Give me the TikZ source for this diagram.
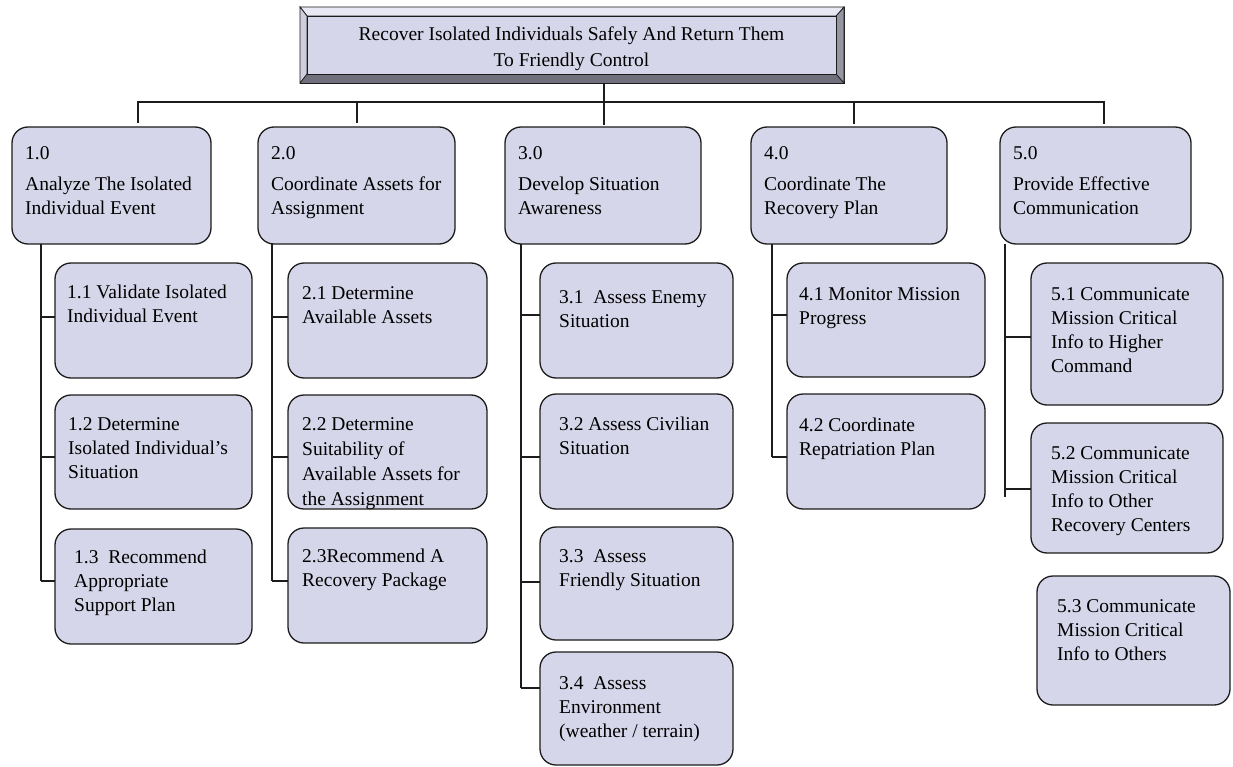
\documentclass[tikz,border=0pt]{standalone}
\usepackage{fontspec}
\setmainfont{Liberation Serif}
\definecolor{boxfill}{RGB}{214,214,234}
\definecolor{linec}{RGB}{28,28,28}
\definecolor{bevtop}{RGB}{232,232,244}
\definecolor{bevleft}{RGB}{206,206,222}
\definecolor{bevright}{RGB}{150,150,162}
\definecolor{bevbot}{RGB}{112,112,124}
\tikzset{
  box/.style={draw=linec, line width=1.3pt, fill=boxfill, rounded corners=16pt,
    outer sep=0pt, inner sep=0pt, anchor=north west},
  boxtext/.style={anchor=north west, inner sep=0pt, align=left,
    font=\fontsize{19.5}{24}\selectfont},
  link/.style={draw=linec, line width=1.6pt},
  bevel/.style={draw=linec, line width=0.8pt},
}
% name, left, top, right, bottom, text indent, first baseline, text
\newcommand\taskbox[8]{%
  \node[box, minimum width={#4-#2}, minimum height={#5-#3}] (#1) at (#2,#3) {};
  \node[boxtext] (#1-t) at ([shift={(#6,#7-16.8)}]#1.north west) {\strut #8};
}
\begin{document}
\begin{tikzpicture}[x=1pt, y=-1pt]
\useasboundingbox (0,0) rectangle (1233,767);

% root box with bevelled frame
\node[bevel, fill=bevbot, anchor=north west, inner sep=0pt, outer sep=0pt,
      minimum width=544, minimum height=76] (frame) at (300,7) {};
\fill[bevright, bevel] (844,7) -- (844,83) -- (836,74) -- (836,16) -- cycle;
\fill[bevtop, bevel] (300,7) -- (844,7) -- (836,16) -- (307,16) -- cycle;
\fill[bevleft, bevel] (300,7) -- (307,16) -- (307,74) -- (300,83) -- cycle;
\node[bevel, fill=boxfill, anchor=north west, inner sep=0pt, outer sep=0pt,
      minimum width=529, minimum height=58] (root) at (307,16) {};
\node[anchor=north, inner sep=0pt, align=center, font=\fontsize{19.5}{26}\selectfont]
  (root-t) at (571.5,22) {\strut Recover Isolated Individuals Safely And Return Them\\To Friendly Control};

% first level
\taskbox{A}{12}{127}{211}{244}{13}{32}{1.0\\[7pt]Analyze The Isolated\\Individual Event}
\taskbox{B}{258}{127}{455}{244}{13}{32}{2.0\\[7pt]Coordinate Assets for\\Assignment}
\taskbox{C}{505}{127}{701}{244}{13}{32}{3.0\\[7pt]Develop Situation\\Awareness}
\taskbox{D}{751}{127}{947}{244}{13}{32}{4.0\\[7pt]Coordinate The\\Recovery Plan}
\taskbox{E}{1000}{127}{1191}{244}{13}{32}{5.0\\[7pt]Provide Effective\\Communication}

% branches from the root
\coordinate (barL) at (138,102);
\coordinate (barR) at (1104,102);
\coordinate (t1) at (138,123);
\coordinate (t2) at (357,123);
\coordinate (t3) at (604,125);
\coordinate (t4) at (854,124);
\coordinate (t5) at (1104,124);
\draw[link] (barL) -- (barR);
\draw[link] (frame.south -| t3) -- (t3);
\foreach \t in {t1,t2,t4,t5} \draw[link] ([yshift=1pt]\t |- barL) -- (\t);

% column 1
\taskbox{a11}{55}{263}{252}{378}{12}{35}{1.1 Validate Isolated\\Individual Event}
\taskbox{a12}{55}{395}{252}{509}{13}{35}{1.2 Determine\\Isolated Individual’s\\Situation}
\taskbox{a13}{55}{529}{252}{644}{19}{34}{1.3\ \ Recommend\\Appropriate\\Support Plan}
% column 2
\taskbox{b21}{288}{263}{487}{378}{14}{36}{2.1 Determine\\Available Assets}
\taskbox{b22}{288}{395}{487}{509}{14}{35}{2.2 Determine\\[1pt]Suitability of\\[1pt]Available Assets for\\[1pt]the Assignment}
\taskbox{b23}{288}{528}{487}{643}{14}{34}{2.3Recommend A\\Recovery Package}
% column 3
\taskbox{c31}{540}{263}{733}{378}{19}{40}{3.1\ \ Assess Enemy\\Situation}
\taskbox{c32}{540}{394}{733}{509}{19}{36}{3.2 Assess Civilian\\Situation}
\taskbox{c33}{540}{527}{733}{640}{19}{35}{3.3\ \ Assess\\Friendly Situation}
\taskbox{c34}{540}{652}{733}{765}{19}{37}{3.4\ \ Assess\\Environment\\(weather / terrain)}
% column 4
\taskbox{d41}{787}{263}{985}{377}{12}{37}{4.1 Monitor Mission\\Progress}
\taskbox{d42}{787}{394}{985}{509}{12}{37}{4.2 Coordinate\\Repatriation Plan}
% column 5
\taskbox{e51}{1031}{263}{1223}{405}{20}{37}{5.1 Communicate\\Mission Critical\\Info to Higher\\Command}
\taskbox{e52}{1031}{423}{1223}{553}{20}{36}{5.2 Communicate\\Mission Critical\\Info to Other\\Recovery Centers}
\taskbox{e53}{1037}{576}{1230}{705}{20}{36}{5.3 Communicate\\Mission Critical\\Info to Others}

% spines and junctions
\coordinate (j11) at (41,317);   \coordinate (j12) at (41,457);   \coordinate (j13) at (41,581);
\coordinate (j21) at (272,317);  \coordinate (j22) at (272,457);  \coordinate (j23) at (272,581);
\coordinate (j31) at (521,315);  \coordinate (j32) at (521,457);  \coordinate (j33) at (521,582);
\coordinate (j34) at (521,688);
\coordinate (j41) at (772,315);  \coordinate (j42) at (772,457);
\coordinate (j51) at (1005,337); \coordinate (j52) at (1005,489); \coordinate (e5end) at (1005,497);

\draw[link] (A.south -| j11) -- (j13);
\draw[link] (B.south -| j21) -- (j23);
\draw[link] (C.south -| j31) -- (j34);
\draw[link] (D.south -| j41) -- (j42);
\draw[link] (E.south -| j51) -- (e5end);
\foreach \j/\b in {j11/a11, j12/a12, j13/a13, j21/b21, j22/b22, j23/b23,
                   j31/c31, j32/c32, j33/c33, j34/c34, j41/d41, j42/d42,
                   j51/e51, j52/e52}
  \draw[link] (\j) -- (\j -| \b.west);
\end{tikzpicture}
\end{document}
